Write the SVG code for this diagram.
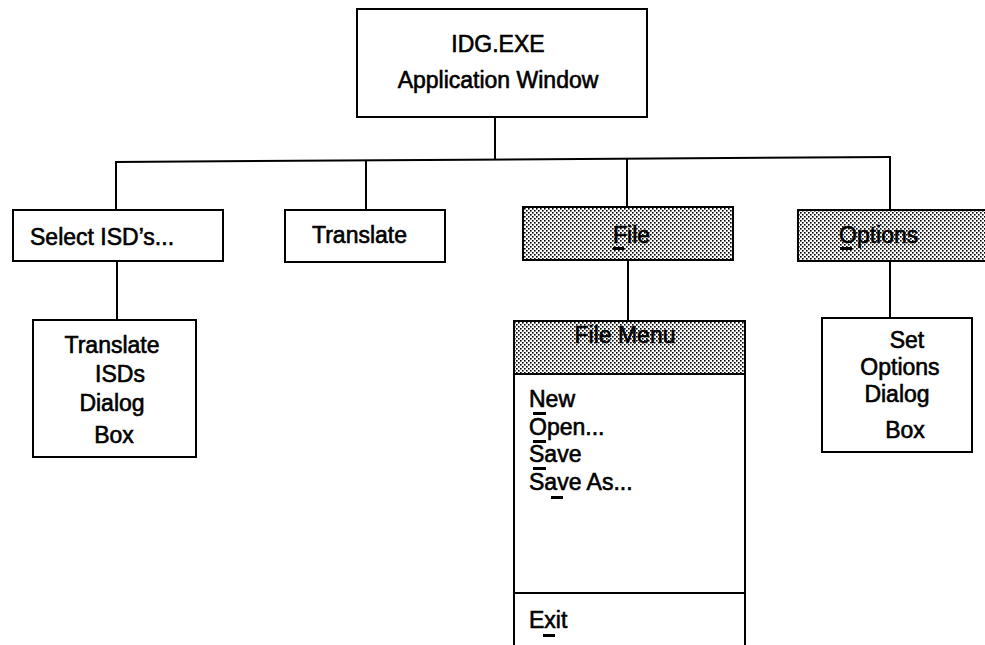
<svg xmlns="http://www.w3.org/2000/svg" width="985" height="645" viewBox="0 0 985 645">
<defs>
<pattern id="dots" width="4" height="4" patternUnits="userSpaceOnUse">
<rect width="4" height="4" fill="#ffffff"/>
<rect x="0" y="0" width="1.6" height="1.6" fill="#000"/>
<rect x="2" y="2" width="1.6" height="1.6" fill="#000"/>
</pattern>
</defs>
<style>
.box{fill:#fff;stroke:#000;stroke-width:2}
.shade{fill:url(#dots);stroke:#000;stroke-width:2}
.ln{stroke:#000;stroke-width:2;fill:none}
text{font-family:"Liberation Sans",Arial,Helvetica,sans-serif;font-size:23px;fill:#000;stroke:#000;stroke-width:0.6}
.m{text-anchor:middle}
.ul{fill:#000}
</style>
<rect width="985" height="645" fill="#fff"/>
<g id="connectors">
<line class="ln" x1="495" y1="117" x2="495" y2="159.5"/>
<line class="ln" x1="115" y1="162" x2="891" y2="157"/>
<line class="ln" x1="116" y1="162" x2="116" y2="210"/>
<line class="ln" x1="366" y1="160.7" x2="366" y2="210"/>
<line class="ln" x1="627" y1="159" x2="627" y2="207"/>
<line class="ln" x1="890" y1="157" x2="890" y2="210"/>
<line class="ln" x1="117" y1="261" x2="117" y2="320"/>
<line class="ln" x1="628" y1="260" x2="628" y2="321"/>
<line class="ln" x1="890" y1="261" x2="890" y2="318"/>
</g>
<g id="app">
<rect class="box" x="357" y="9" width="290" height="108"/>
<text class="m" x="498" y="52">IDG.EXE</text>
<text class="m" x="498" y="88">Application Window</text>
</g>
<g id="select">
<rect class="box" x="13" y="210" width="210" height="51"/>
<text x="30" y="245">Select ISD’s...</text>
</g>
<g id="translate">
<rect class="box" x="285" y="210" width="160" height="52"/>
<text x="312" y="243">Translate</text>
</g>
<g id="file">
<rect class="shade" x="523" y="207" width="210" height="53"/>
<text x="613" y="243">File</text>
<rect class="ul" x="613" y="247" width="11" height="3"/>
</g>
<g id="options">
<rect class="shade" x="798" y="210" width="192" height="51"/>
<text x="839" y="243">Options</text>
<rect class="ul" x="840" y="247" width="12" height="3"/>
</g>
<g id="translate-dialog">
<rect class="box" x="33" y="320" width="163" height="137"/>
<text class="m" x="112" y="353">Translate</text>
<text class="m" x="120" y="382">ISDs</text>
<text class="m" x="112" y="411">Dialog</text>
<text class="m" x="114" y="443">Box</text>
</g>
<g id="file-menu">
<rect class="box" x="514" y="321" width="231" height="330"/>
<rect class="shade" x="514" y="321" width="231" height="53"/>
<line class="ln" x1="514" y1="593" x2="745" y2="593"/>
<text class="m" x="625" y="343">File Menu</text>
<text x="529" y="407">New</text>
<rect class="ul" x="533" y="412" width="13" height="3"/>
<text x="529" y="435">Open...</text>
<rect class="ul" x="533" y="440" width="13" height="3"/>
<text x="529" y="462">Save</text>
<rect class="ul" x="533" y="467" width="13" height="3"/>
<text x="529" y="490">Save As...</text>
<rect class="ul" x="551" y="496" width="12" height="3"/>
<text x="529" y="628">Exit</text>
<rect class="ul" x="543" y="634" width="12" height="3"/>
</g>
<g id="set-options">
<rect class="box" x="822" y="318" width="150" height="134"/>
<text class="m" x="907" y="348">Set</text>
<text class="m" x="900" y="375">Options</text>
<text class="m" x="897" y="402">Dialog</text>
<text class="m" x="905" y="438">Box</text>
</g>
</svg>
